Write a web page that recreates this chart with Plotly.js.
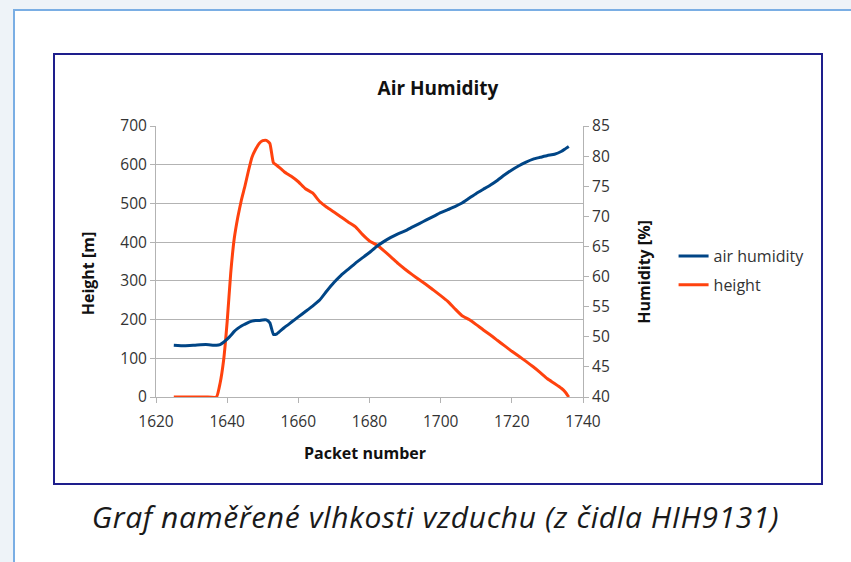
<!DOCTYPE html>
<html>
<head>
<meta charset="utf-8">
<script src="https://cdn.plot.ly/plotly-3.0.1.min.js"></script>
<style>
  html, body { margin: 0; padding: 0; width: 851px; height: 562px; overflow: hidden; background: #eef3f8; }
  #panel { position: absolute; left: 13px; top: 9px; width: 900px; height: 600px; background: #ffffff;
           border-left: 2px solid #7aaee4; border-top: 2px solid #7aaee4; }
  #box { position: absolute; left: 53px; top: 53px; width: 770px; height: 432px; box-sizing: border-box;
         border: 2px solid #1e1e8c; background: #ffffff; }
  #chart { position: absolute; left: 0; top: 0; width: 766px; height: 428px; }
  #caption { position: absolute; left: 0; width: 871px; top: 496px; text-align: center;
             font-family: "Open Sans", sans-serif; font-style: italic; font-size: 30px; letter-spacing: 0.6px; color: #1a1a1a; }
</style>
</head>
<body>
<div id="panel"></div>
<div id="box"><div id="chart"></div></div>
<div id="caption">Graf naměřené vlhkosti vzduchu (z čidla HIH9131)</div>
<script>
const packets = [1625, 1628, 1631, 1634, 1637, 1638, 1639, 1640, 1641, 1642, 1643, 1644, 1645, 1646, 1647, 1648,
  1649, 1650, 1651, 1652, 1653, 1654, 1656, 1658, 1660, 1662, 1664, 1666, 1668, 1670, 1672, 1674, 1676, 1678,
  1680, 1682, 1684, 1686, 1688, 1690, 1692, 1694, 1696, 1698, 1700, 1702, 1704, 1706, 1708, 1710, 1712, 1714,
  1716, 1718, 1720, 1722, 1724, 1726, 1728, 1730, 1732, 1734, 1735, 1736];

const heightM = [0, 0, 0, 0, 0, 35, 95, 195, 320, 410, 465, 509, 545, 585, 620, 640,
  655, 662, 663, 655, 605, 598, 582, 570, 556, 538, 527, 505, 490, 478, 465, 452, 440, 420,
  403, 393, 378, 362, 345, 330, 316, 303, 290, 276, 262, 247, 228, 210, 200, 187, 173, 160,
  146, 132, 118, 105, 92, 78, 63, 47, 35, 22, 13, 0];

const humidity = [48.6, 48.5, 48.6, 48.7, 48.6, 48.7, 49.1, 49.6, 50.2, 50.9, 51.4, 51.8, 52.1, 52.4, 52.6, 52.7,
  52.7, 52.8, 52.8, 52.3, 50.4, 50.5, 51.5, 52.4, 53.3, 54.2, 55.1, 56.1, 57.6, 59.0, 60.2, 61.2, 62.2, 63.1,
  64.0, 65.0, 65.8, 66.5, 67.1, 67.6, 68.2, 68.8, 69.4, 70.0, 70.6, 71.1, 71.6, 72.2, 73.0, 73.8, 74.5, 75.2,
  76.0, 76.9, 77.7, 78.4, 79.0, 79.5, 79.8, 80.1, 80.3, 80.8, 81.2, 81.6];

const seriesNames = ["air humidity", "height"];
const chartTitle = "Air Humidity";
const xTitle = "Packet number";
const yLeftTitle = "Height [m]";
const yRightTitle = "Humidity [%]";

const FONT = '"Open Sans", sans-serif';
const GRID = '#b3b3b3';
const TICKFONT = { family: FONT, size: 15.5, color: '#333333' };

const traces = [
  { x: packets, y: humidity, yaxis: 'y2', name: seriesNames[0], mode: 'lines', legendgroup: 'a',
    line: { color: '#004586', width: 3, shape: 'spline', smoothing: 0.4 } },
  { x: packets, y: heightM, yaxis: 'y', name: seriesNames[1], mode: 'lines', legendgroup: 'b',
    line: { color: '#ff420e', width: 3, shape: 'spline', smoothing: 0.4 } }
];

const layout = {
  width: 766, height: 428,
  margin: { l: 101, r: 236, t: 71, b: 86 },
  paper_bgcolor: '#ffffff', plot_bgcolor: '#ffffff',
  font: { family: FONT, size: 16, color: '#333333' },
  title: { text: '<b>' + chartTitle + '</b>', xref: 'container', x: 0.5, xanchor: 'center',
           yref: 'container', y: 1 - 33 / 428, yanchor: 'middle',
           font: { family: FONT, size: 19, color: '#111111' } },
  xaxis: { range: [1620, 1740], dtick: 20, tick0: 1620, showgrid: false, zeroline: false,
           showline: true, linecolor: GRID, linewidth: 1, ticks: 'outside', ticklen: 5, tickcolor: GRID,
           ticklabelstandoff: 5, tickfont: TICKFONT },
  yaxis: { range: [0, 700], dtick: 100, tick0: 0, showgrid: true, gridcolor: GRID, gridwidth: 1, zeroline: false,
           showline: true, linecolor: GRID, linewidth: 1, ticks: 'outside', ticklen: 5, tickcolor: GRID,
           tickfont: TICKFONT },
  yaxis2: { range: [40, 85], dtick: 5, tick0: 40, overlaying: 'y', side: 'right', showgrid: false, zeroline: false,
            showline: true, linecolor: GRID, linewidth: 1, ticks: 'outside', ticklen: 5, tickcolor: GRID,
            tickfont: TICKFONT },
  showlegend: true,
  legend: { x: (676 - 55 - 101) / 429, xanchor: 'left', y: 1 - (215.5 - 71) / 271, yanchor: 'middle',
            traceorder: 'grouped', tracegroupgap: 5, bgcolor: 'rgba(0,0,0,0)', borderwidth: 0,
            font: { family: FONT, size: 16, color: '#333333' } },
  annotations: [
    { text: '<b>' + xTitle + '</b>', xref: 'paper', yref: 'paper', x: (366 - 55 - 101) / 429, y: 1 - (453 - 55 - 71) / 271,
      xanchor: 'center', yanchor: 'middle', showarrow: false, font: { family: FONT, size: 16, color: '#111111' } },
    { text: '<b>' + yLeftTitle + '</b>', xref: 'paper', yref: 'paper', x: (88 - 55 - 101) / 429, y: 1 - (273 - 55 - 71) / 271,
      xanchor: 'center', yanchor: 'middle', textangle: -90, showarrow: false, font: { family: FONT, size: 16, color: '#111111' } },
    { text: '<b>' + yRightTitle + '</b>', xref: 'paper', yref: 'paper', x: (646 - 55 - 101) / 429, y: 1 - (272 - 55 - 71) / 271,
      xanchor: 'center', yanchor: 'middle', textangle: -90, showarrow: false, font: { family: FONT, size: 16, color: '#111111' } }
  ]
};

Plotly.newPlot('chart', traces, layout, { staticPlot: true, displayModeBar: false });
</script>
</body>
</html>
